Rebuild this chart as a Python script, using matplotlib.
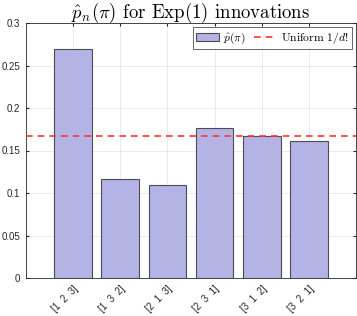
import matplotlib
matplotlib.use("Agg")
import matplotlib.pyplot as plt
import numpy as np

categories = ["[1  2  3]", "[1  3  2]", "[2  1  3]", "[2  3  1]", "[3  1  2]", "[3  2  1]"]
p_hat = [0.270, 0.117, 0.109, 0.176, 0.167, 0.161]
uniform = 1 / 6

plt.rcParams['mathtext.fontset'] = 'cm'
plt.rcParams['font.family'] = ['Liberation Sans', 'DejaVu Sans']
plt.rcParams['axes.unicode_minus'] = False

fig = plt.figure(figsize=(3.57, 3.16), dpi=100)
ax = fig.add_axes([26/357, 1 - 278/316, 330/357, 255/316])

x = np.arange(1, len(categories) + 1)
bars = ax.bar(x, p_hat, width=0.8, color=(0.702, 0.702, 0.902), edgecolor=(0.3, 0.3, 0.3),
              linewidth=0.8, label=r'$\hat{p}(\pi)$', zorder=2)
line = ax.axhline(uniform, color=(1, 0.2, 0.2), linestyle=(0, (4, 3)), linewidth=1.2,
                  label=r'Uniform $1/d!$', zorder=3)

ax.set_xlim(0, 7)
ax.set_ylim(0, 0.3)
ax.set_yticks(np.arange(0, 0.31, 0.05))
ax.set_yticklabels(['0', '0.05', '0.1', '0.15', '0.2', '0.25', '0.3'])
ax.set_xticks(x)
ax.set_xticklabels(categories, rotation=45, ha='right', rotation_mode='anchor')
ax.tick_params(labelsize=7, length=2.5, direction='in', top=True, right=True,
               colors=(0.15, 0.15, 0.15), pad=4)
ax.grid(True, color=(0.9, 0.9, 0.9), linewidth=0.6, zorder=0)
ax.set_axisbelow(True)
for s in ax.spines.values():
    s.set_color((0.15, 0.15, 0.15))
    s.set_linewidth(0.6)

ax.set_title(r'$\hat{p}_n(\pi)$ for Exp$(1)$ innovations', fontsize=13.5,
             fontfamily='cmr10', pad=4)
leg = ax.legend(handles=[bars, line], loc='upper right', ncol=2, fontsize=8.4, frameon=True,
                fancybox=False, edgecolor=(0.15, 0.15, 0.15), handlelength=1.9,
                columnspacing=0.7, handletextpad=0.4, borderpad=0.25, borderaxespad=0.35)
leg.get_frame().set_linewidth(0.6)
for t in leg.get_texts():
    t.set_fontfamily('cmr10')

fig.savefig('out.png', dpi=100)
